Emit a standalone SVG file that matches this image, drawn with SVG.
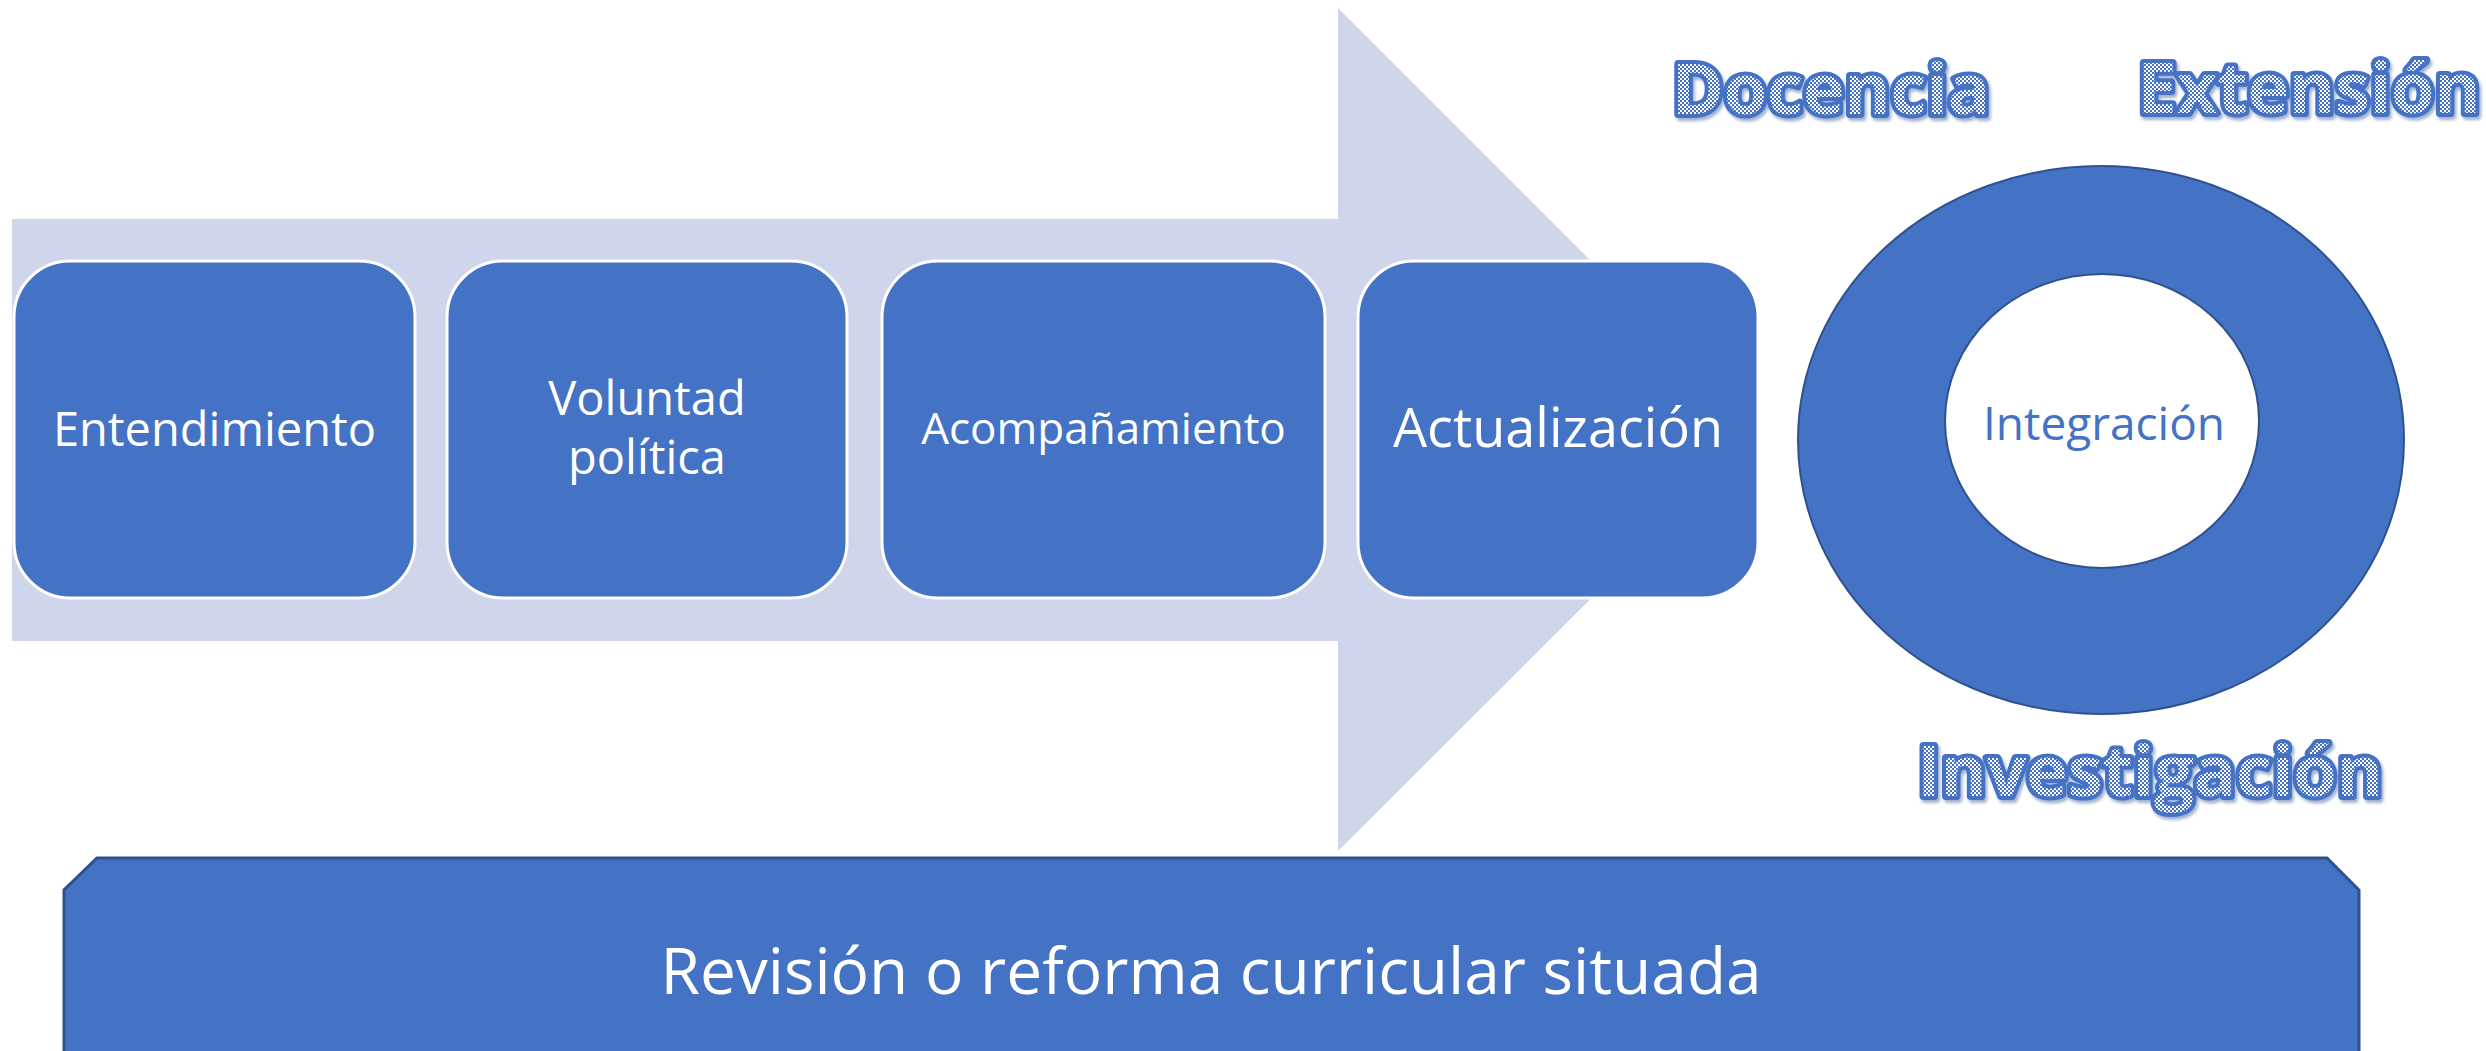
<svg xmlns="http://www.w3.org/2000/svg" width="2486" height="1051" viewBox="0 0 2486 1051">
  <defs>
    <style>
      .box { fill: #4472C4; stroke: #FFFFFF; stroke-width: 3; }
      .boxtxt { font-family: "Open Sans", "Liberation Sans", sans-serif; fill: #FFFFFF; text-anchor: middle; }
      .deco { font-family: "Open Sans", "Liberation Sans", sans-serif; font-weight: 700; font-size: 70px; fill: url(#checker); stroke: #4472C4; stroke-width: 8; stroke-linejoin: round; paint-order: stroke; filter: url(#shadow); }
    </style>
    <pattern id="checker" width="4" height="4" patternUnits="userSpaceOnUse">
      <rect width="4" height="4" fill="#FFFFFF"/>
      <rect width="2" height="2" fill="#4472C4"/>
      <rect x="2" y="2" width="2" height="2" fill="#4472C4"/>
    </pattern>
    <filter id="shadow" x="-10%" y="-20%" width="120%" height="150%">
      <feDropShadow dx="2" dy="3" stdDeviation="1.5" flood-color="#2F528F" flood-opacity="0.45"/>
    </filter>
  </defs>

  <g id="big-arrow">
    <polygon points="12,219 1338,219 1338,8 1760,430 1338,851 1338,641 12,641" fill="#CFD5EA"/>
  </g>

  <g id="node-entendimiento">
    <rect class="box" x="14" y="261" width="401" height="337" rx="56" ry="56"/>
    <text class="boxtxt" x="214.5" y="446" font-size="47">Entendimiento</text>
  </g>
  <g id="node-voluntad">
    <rect class="box" x="447" y="261" width="400" height="337" rx="56" ry="56"/>
    <text class="boxtxt" x="647" y="415" font-size="47">Voluntad</text>
    <text class="boxtxt" x="647" y="474" font-size="47">política</text>
  </g>
  <g id="node-acompanamiento">
    <rect class="box" x="882" y="261" width="443" height="337" rx="56" ry="56"/>
    <text class="boxtxt" x="1103.5" y="444" font-size="44">Acompañamiento</text>
  </g>
  <g id="node-actualizacion">
    <rect class="box" x="1358" y="261" width="400" height="337" rx="56" ry="56"/>
    <text class="boxtxt" x="1558" y="447" font-size="54">Actualización</text>
  </g>

  <g id="node-donut">
    <path d="M1798,440 A303,274 0 1,0 2404,440 A303,274 0 1,0 1798,440 Z M1945,421 A157,147 0 1,1 2259,421 A157,147 0 1,1 1945,421 Z" fill="#4472C4" fill-rule="evenodd" stroke="#2F528F" stroke-width="2"/>
    <text x="2104" y="440" font-family="Open Sans, Liberation Sans, sans-serif" font-size="46" fill="#4472C4" text-anchor="middle">Integración</text>
  </g>

  <g id="label-docencia">
    <text class="deco" x="1831" y="114" text-anchor="middle">Docencia</text>
  </g>
  <g id="label-extension">
    <text class="deco" x="2309" y="113" text-anchor="middle">Extensión</text>
  </g>
  <g id="label-investigacion">
    <text class="deco" x="2150" y="796" text-anchor="middle">Investigación</text>
  </g>

  <g id="node-revision">
    <polygon points="97,858 2327,858 2359,890 2359,1070 64,1070 64,890" fill="#4472C4" stroke="#2F528F" stroke-width="3"/>
    <text class="boxtxt" x="1211" y="994" font-size="64">Revisión o reforma curricular situada</text>
  </g>

  <g id="connectors"></g>
</svg>
